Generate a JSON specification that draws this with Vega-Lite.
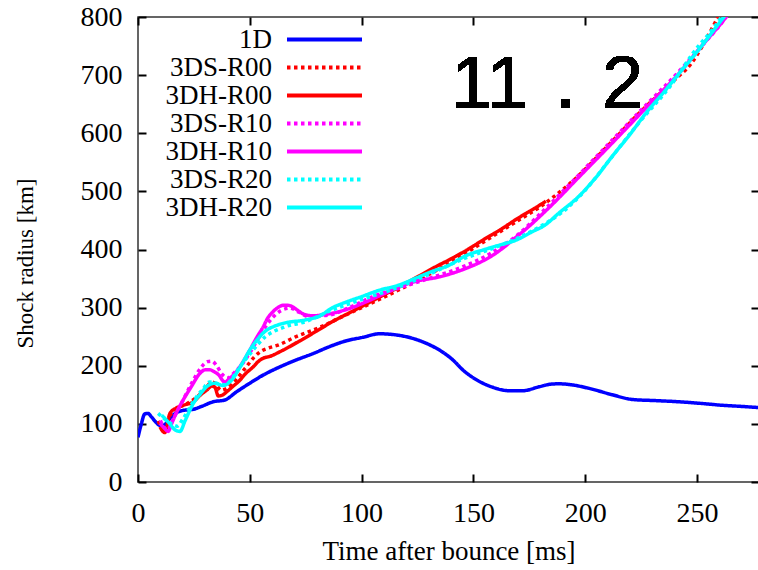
{
"$schema": "https://vega.github.io/schema/vega-lite/v6.json",
"autosize": {"type": "none"},
"width": 621, "height": 465,
"padding": {"left": 138, "top": 17, "right": 0, "bottom": 88},
"background": "white",
"config": {"view": {"stroke": "#333", "strokeWidth": 1.5}, "font": "Liberation Serif", "axis": {"labelFont": "Liberation Serif", "titleFont": "Liberation Serif"}},
"data": {"values": [
{"s":"1D","t":0,"r":77},{"s":"1D","t":1.5,"r":100},{"s":"1D","t":3,"r":117},{"s":"1D","t":4.5,"r":118},{"s":"1D","t":6,"r":112},{"s":"1D","t":8,"r":103},{"s":"1D","t":10,"r":97},{"s":"1D","t":12,"r":99},{"s":"1D","t":14,"r":108},{"s":"1D","t":17,"r":119},{"s":"1D","t":20,"r":123},{"s":"1D","t":24.7,"r":125},{"s":"1D","t":28.4,"r":130},{"s":"1D","t":33.6,"r":138},{"s":"1D","t":38.8,"r":141},{"s":"1D","t":44,"r":155},{"s":"1D","t":50,"r":170},{"s":"1D","t":56,"r":184},{"s":"1D","t":63.4,"r":198},{"s":"1D","t":70.8,"r":210},{"s":"1D","t":78.3,"r":221},{"s":"1D","t":85.7,"r":233},{"s":"1D","t":93.2,"r":243},{"s":"1D","t":100.6,"r":249},{"s":"1D","t":108,"r":255},{"s":"1D","t":115.5,"r":253},{"s":"1D","t":122.9,"r":247},{"s":"1D","t":130.4,"r":236},{"s":"1D","t":134.8,"r":227},{"s":"1D","t":140.8,"r":210},{"s":"1D","t":145.2,"r":193},{"s":"1D","t":152.7,"r":173},{"s":"1D","t":158.6,"r":163},{"s":"1D","t":166,"r":157},{"s":"1D","t":172,"r":157},{"s":"1D","t":179.5,"r":164},{"s":"1D","t":184,"r":168},{"s":"1D","t":188,"r":169},{"s":"1D","t":194.3,"r":167},{"s":"1D","t":201.8,"r":161},{"s":"1D","t":212.2,"r":150},{"s":"1D","t":221,"r":142},{"s":"1D","t":231.6,"r":140},{"s":"1D","t":242,"r":138},{"s":"1D","t":252.4,"r":135},{"s":"1D","t":261.3,"r":132},{"s":"1D","t":270,"r":130},{"s":"1D","t":277.7,"r":128},
{"s":"3DS-R00","t":9,"r":105},{"s":"3DS-R00","t":12,"r":88},{"s":"3DS-R00","t":14,"r":112},{"s":"3DS-R00","t":18,"r":128},{"s":"3DS-R00","t":22,"r":135},{"s":"3DS-R00","t":26,"r":145},{"s":"3DS-R00","t":30,"r":160},{"s":"3DS-R00","t":33,"r":172},{"s":"3DS-R00","t":35,"r":168},{"s":"3DS-R00","t":37,"r":158},{"s":"3DS-R00","t":40,"r":162},{"s":"3DS-R00","t":44,"r":177},{"s":"3DS-R00","t":48,"r":196},{"s":"3DS-R00","t":52,"r":215},{"s":"3DS-R00","t":55,"r":225},{"s":"3DS-R00","t":58,"r":230},{"s":"3DS-R00","t":63,"r":236},{"s":"3DS-R00","t":70,"r":249},{"s":"3DS-R00","t":80,"r":264},{"s":"3DS-R00","t":90,"r":282},{"s":"3DS-R00","t":100,"r":300},{"s":"3DS-R00","t":110,"r":318},{"s":"3DS-R00","t":120,"r":337},{"s":"3DS-R00","t":130,"r":357},{"s":"3DS-R00","t":140,"r":378},{"s":"3DS-R00","t":150,"r":402},{"s":"3DS-R00","t":160,"r":426},{"s":"3DS-R00","t":170,"r":450},{"s":"3DS-R00","t":180,"r":474},{"s":"3DS-R00","t":195,"r":520},{"s":"3DS-R00","t":210,"r":578},{"s":"3DS-R00","t":225,"r":638},{"s":"3DS-R00","t":240,"r":692},{"s":"3DS-R00","t":247,"r":718},{"s":"3DS-R00","t":253,"r":754},{"s":"3DS-R00","t":259,"r":797},{"s":"3DS-R00","t":264,"r":830},
{"s":"3DH-R00","t":9.8,"r":95},{"s":"3DH-R00","t":12,"r":85},{"s":"3DH-R00","t":14.3,"r":118},{"s":"3DH-R00","t":17,"r":127},{"s":"3DH-R00","t":20.2,"r":132},{"s":"3DH-R00","t":24.7,"r":138},{"s":"3DH-R00","t":28,"r":150},{"s":"3DH-R00","t":30.7,"r":158},{"s":"3DH-R00","t":33,"r":165},{"s":"3DH-R00","t":34.4,"r":163},{"s":"3DH-R00","t":35.9,"r":148},{"s":"3DH-R00","t":38,"r":150},{"s":"3DH-R00","t":39.6,"r":155},{"s":"3DH-R00","t":42,"r":163},{"s":"3DH-R00","t":45.5,"r":175},{"s":"3DH-R00","t":48,"r":186},{"s":"3DH-R00","t":51.5,"r":198},{"s":"3DH-R00","t":54,"r":208},{"s":"3DH-R00","t":56,"r":213},{"s":"3DH-R00","t":58.9,"r":216},{"s":"3DH-R00","t":63.4,"r":224},{"s":"3DH-R00","t":72,"r":242},{"s":"3DH-R00","t":80,"r":260},{"s":"3DH-R00","t":87,"r":276},{"s":"3DH-R00","t":95,"r":292},{"s":"3DH-R00","t":102,"r":306},{"s":"3DH-R00","t":110,"r":322},{"s":"3DH-R00","t":117,"r":336},{"s":"3DH-R00","t":125,"r":353},{"s":"3DH-R00","t":132,"r":368},{"s":"3DH-R00","t":140,"r":384},{"s":"3DH-R00","t":147,"r":399},{"s":"3DH-R00","t":155,"r":418},{"s":"3DH-R00","t":162,"r":434},{"s":"3DH-R00","t":170,"r":454},{"s":"3DH-R00","t":177,"r":470},{"s":"3DH-R00","t":182.4,"r":483},
{"s":"3DS-R10","t":10,"r":106},{"s":"3DS-R10","t":13,"r":90},{"s":"3DS-R10","t":16,"r":110},{"s":"3DS-R10","t":20,"r":140},{"s":"3DS-R10","t":24,"r":170},{"s":"3DS-R10","t":28,"r":196},{"s":"3DS-R10","t":31,"r":207},{"s":"3DS-R10","t":33,"r":208},{"s":"3DS-R10","t":35,"r":201},{"s":"3DS-R10","t":37.5,"r":186},{"s":"3DS-R10","t":40,"r":179},{"s":"3DS-R10","t":43,"r":188},{"s":"3DS-R10","t":47,"r":205},{"s":"3DS-R10","t":50,"r":222},{"s":"3DS-R10","t":55,"r":255},{"s":"3DS-R10","t":60,"r":282},{"s":"3DS-R10","t":64,"r":295},{"s":"3DS-R10","t":68,"r":299},{"s":"3DS-R10","t":72,"r":292},{"s":"3DS-R10","t":76,"r":285},{"s":"3DS-R10","t":85,"r":287},{"s":"3DS-R10","t":95,"r":301},{"s":"3DS-R10","t":105,"r":319},{"s":"3DS-R10","t":117,"r":334},{"s":"3DS-R10","t":130,"r":350},{"s":"3DS-R10","t":145,"r":370},{"s":"3DS-R10","t":158,"r":394},{"s":"3DS-R10","t":170,"r":426},{"s":"3DS-R10","t":180,"r":462},{"s":"3DS-R10","t":195,"r":520},{"s":"3DS-R10","t":210,"r":580},{"s":"3DS-R10","t":225,"r":640},{"s":"3DS-R10","t":243,"r":711},{"s":"3DS-R10","t":253,"r":754},{"s":"3DS-R10","t":262,"r":795},{"s":"3DS-R10","t":266,"r":818},
{"s":"3DH-R10","t":9.8,"r":101},{"s":"3DH-R10","t":12,"r":92},{"s":"3DH-R10","t":13.5,"r":87},{"s":"3DH-R10","t":15,"r":100},{"s":"3DH-R10","t":17,"r":118},{"s":"3DH-R10","t":20.2,"r":141},{"s":"3DH-R10","t":24,"r":165},{"s":"3DH-R10","t":27.7,"r":187},{"s":"3DH-R10","t":30,"r":193},{"s":"3DH-R10","t":32.1,"r":193},{"s":"3DH-R10","t":34,"r":190},{"s":"3DH-R10","t":35.9,"r":185},{"s":"3DH-R10","t":38.8,"r":172},{"s":"3DH-R10","t":41,"r":178},{"s":"3DH-R10","t":44,"r":190},{"s":"3DH-R10","t":47,"r":207},{"s":"3DH-R10","t":50,"r":227},{"s":"3DH-R10","t":53,"r":248},{"s":"3DH-R10","t":56,"r":267},{"s":"3DH-R10","t":58,"r":282},{"s":"3DH-R10","t":60.4,"r":293},{"s":"3DH-R10","t":62.5,"r":300},{"s":"3DH-R10","t":65,"r":304},{"s":"3DH-R10","t":67,"r":304},{"s":"3DH-R10","t":69.3,"r":301},{"s":"3DH-R10","t":71.5,"r":295},{"s":"3DH-R10","t":74,"r":289},{"s":"3DH-R10","t":78,"r":286},{"s":"3DH-R10","t":85,"r":289},{"s":"3DH-R10","t":95,"r":299},{"s":"3DH-R10","t":102,"r":310},{"s":"3DH-R10","t":110,"r":324},{"s":"3DH-R10","t":117,"r":336},{"s":"3DH-R10","t":124,"r":345},{"s":"3DH-R10","t":135,"r":353},{"s":"3DH-R10","t":147,"r":368},{"s":"3DH-R10","t":153,"r":378},{"s":"3DH-R10","t":159,"r":391},{"s":"3DH-R10","t":164,"r":405},{"s":"3DH-R10","t":169,"r":421},{"s":"3DH-R10","t":174,"r":437},{"s":"3DH-R10","t":180,"r":458},{"s":"3DH-R10","t":188,"r":488},{"s":"3DH-R10","t":195,"r":516},{"s":"3DH-R10","t":210,"r":575},{"s":"3DH-R10","t":225,"r":635},{"s":"3DH-R10","t":243,"r":708},{"s":"3DH-R10","t":252,"r":750},{"s":"3DH-R10","t":262,"r":795},{"s":"3DH-R10","t":266,"r":815},
{"s":"3DS-R20","t":9,"r":118},{"s":"3DS-R20","t":12,"r":108},{"s":"3DS-R20","t":15,"r":100},{"s":"3DS-R20","t":17.5,"r":96},{"s":"3DS-R20","t":20,"r":108},{"s":"3DS-R20","t":25,"r":140},{"s":"3DS-R20","t":29,"r":160},{"s":"3DS-R20","t":32,"r":172},{"s":"3DS-R20","t":35,"r":170},{"s":"3DS-R20","t":38,"r":167},{"s":"3DS-R20","t":41,"r":173},{"s":"3DS-R20","t":45,"r":195},{"s":"3DS-R20","t":50,"r":220},{"s":"3DS-R20","t":57,"r":250},{"s":"3DS-R20","t":65,"r":266},{"s":"3DS-R20","t":75,"r":276},{"s":"3DS-R20","t":85,"r":293},{"s":"3DS-R20","t":100,"r":314},{"s":"3DS-R20","t":115,"r":333},{"s":"3DS-R20","t":130,"r":357},{"s":"3DS-R20","t":145,"r":383},{"s":"3DS-R20","t":160,"r":404},{"s":"3DS-R20","t":170,"r":420},{"s":"3DS-R20","t":180,"r":440},{"s":"3DS-R20","t":190,"r":465},{"s":"3DS-R20","t":200,"r":502},{"s":"3DS-R20","t":210,"r":550},{"s":"3DS-R20","t":224,"r":618},{"s":"3DS-R20","t":239,"r":686},{"s":"3DS-R20","t":248,"r":737},{"s":"3DS-R20","t":260,"r":795},{"s":"3DS-R20","t":264,"r":820},
{"s":"3DH-R20","t":10.6,"r":115},{"s":"3DH-R20","t":14,"r":101},{"s":"3DH-R20","t":16.5,"r":90},{"s":"3DH-R20","t":18.8,"r":87},{"s":"3DH-R20","t":21,"r":105},{"s":"3DH-R20","t":24.7,"r":135},{"s":"3DH-R20","t":28,"r":152},{"s":"3DH-R20","t":31,"r":165},{"s":"3DH-R20","t":34.4,"r":170},{"s":"3DH-R20","t":38,"r":166},{"s":"3DH-R20","t":41.8,"r":175},{"s":"3DH-R20","t":46,"r":200},{"s":"3DH-R20","t":50,"r":227},{"s":"3DH-R20","t":54,"r":248},{"s":"3DH-R20","t":57.4,"r":261},{"s":"3DH-R20","t":61,"r":268},{"s":"3DH-R20","t":65,"r":273},{"s":"3DH-R20","t":75,"r":279},{"s":"3DH-R20","t":81,"r":285},{"s":"3DH-R20","t":87,"r":300},{"s":"3DH-R20","t":92,"r":308},{"s":"3DH-R20","t":100,"r":319},{"s":"3DH-R20","t":108,"r":330},{"s":"3DH-R20","t":116,"r":338},{"s":"3DH-R20","t":125,"r":352},{"s":"3DH-R20","t":132,"r":363},{"s":"3DH-R20","t":138,"r":371},{"s":"3DH-R20","t":147,"r":390},{"s":"3DH-R20","t":155,"r":400},{"s":"3DH-R20","t":162,"r":408},{"s":"3DH-R20","t":169,"r":416},{"s":"3DH-R20","t":176,"r":430},{"s":"3DH-R20","t":182,"r":442},{"s":"3DH-R20","t":188,"r":462},{"s":"3DH-R20","t":197,"r":491},{"s":"3DH-R20","t":205,"r":525},{"s":"3DH-R20","t":212,"r":560},{"s":"3DH-R20","t":220,"r":598},{"s":"3DH-R20","t":227,"r":634},{"s":"3DH-R20","t":235,"r":670},{"s":"3DH-R20","t":242,"r":703},{"s":"3DH-R20","t":250,"r":740},{"s":"3DH-R20","t":258,"r":780},{"s":"3DH-R20","t":263,"r":805}
]},
"layer": [
{"mark": {"type": "line", "strokeWidth": 3.5, "clip": true, "interpolate": "monotone"},
 "encoding": {
  "x": {"field": "t", "type": "quantitative", "scale": {"domain": [0, 277.7], "nice": false, "zero": false},
        "axis": {"orient": "bottom", "values": [0,50,100,150,200,250], "title": "Time after bounce [ms]", "titleFont": "Liberation Serif", "titleFontSize": 27, "titleFontWeight": "normal", "titleColor": "black", "titleY": 69, "titleBaseline": "middle", "labelFont": "Liberation Serif", "labelFontSize": 28, "labelColor": "black", "labelPadding": 17, "labelFlush": false, "labelOverlap": false, "ticks": false, "domain": false, "grid": false}},
  "y": {"field": "r", "type": "quantitative", "scale": {"domain": [0, 800], "nice": false, "zero": false},
        "axis": {"orient": "left", "values": [0,100,200,300,400,500,600,700,800], "title": "Shock radius [km]", "titleFont": "Liberation Serif", "titleFontSize": 23, "titleFontWeight": "normal", "titleColor": "black", "titleX": -113, "titleY": 246, "titleBaseline": "middle", "titleAngle": -90, "labelFont": "Liberation Serif", "labelFontSize": 28, "labelColor": "black", "labelPadding": 16, "labelFlush": false, "labelOverlap": false, "ticks": false, "domain": false, "grid": false}},
  "color": {"field": "s", "type": "nominal", "scale": {"domain": ["1D","3DS-R00","3DH-R00","3DS-R10","3DH-R10","3DS-R20","3DH-R20"], "range": ["#0000ff","#ff0000","#ff0000","#ff00ff","#ff00ff","#00ffff","#00ffff"]},
        "legend": {"orient": "none", "legendX": 173, "legendY": 9, "title": null, "symbolType": "M-5,0H5", "symbolSize": 225, "symbolStrokeWidth": 4, "labelFont": "Liberation Serif", "labelFontSize": 27, "labelColor": "black", "labelAlign": "right", "labelOffset": -66, "rowPadding": 0, "padding": 0, "labelLimit": 300}},
  "strokeDash": {"field": "s", "type": "nominal", "scale": {"domain": ["1D","3DS-R00","3DH-R00","3DS-R10","3DH-R10","3DS-R20","3DH-R20"], "range": [[1,0],[3.5,3.5],[1,0],[3.5,3.5],[1,0],[3.5,3.5],[1,0]]},
        "legend": {"orient": "none", "legendX": 173, "legendY": 9, "title": null, "symbolType": "M-5,0H5", "symbolSize": 225, "symbolStrokeWidth": 4, "labelFont": "Liberation Serif", "labelFontSize": 27, "labelColor": "black", "labelAlign": "right", "labelOffset": -66, "rowPadding": 0, "padding": 0, "labelLimit": 300}}
 }},
{"mark": {"type": "text", "text": "11．2", "font": "Liberation Sans", "fontSize": 74, "align": "left", "baseline": "alphabetic", "color": "black"},
 "encoding": {
  "x": {"datum": 140, "type": "quantitative", "axis": {"orient": "top", "values": [0,50,100,150,200,250], "labels": false, "title": null, "tickSize": 8, "offset": -8, "tickColor": "black", "tickWidth": 2, "domain": false, "grid": false}},
  "y": {"datum": 643, "type": "quantitative", "axis": {"orient": "right", "values": [0,100,200,300,400,500,600,700,800], "labels": false, "title": null, "tickSize": 8, "offset": -8, "tickColor": "black", "tickWidth": 2, "domain": false, "grid": false}}
 }},
{"mark": {"type": "point", "opacity": 0},
 "encoding": {
  "x": {"datum": 0, "type": "quantitative", "axis": {"orient": "bottom", "values": [0,50,100,150,200,250], "labels": false, "title": null, "tickSize": 8, "offset": -8, "tickColor": "black", "tickWidth": 2, "domain": false, "grid": false}},
  "y": {"datum": 0, "type": "quantitative", "axis": {"orient": "left", "values": [0,100,200,300,400,500,600,700,800], "labels": false, "title": null, "tickSize": 8, "offset": -8, "tickColor": "black", "tickWidth": 2, "domain": false, "grid": false}}
 }}
],
"resolve": {"axis": {"x": "independent", "y": "independent"}}
}
